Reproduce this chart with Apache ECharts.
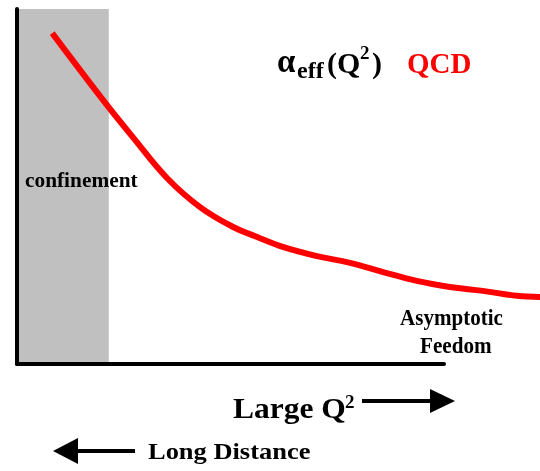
<!DOCTYPE html>
<html>
<head>
<meta charset="utf-8">
<style>
  html, body { margin: 0; padding: 0; background: #ffffff; }
  #chart { width: 540px; height: 471px; }
</style>
<script src="https://cdn.jsdelivr.net/npm/echarts@6/dist/echarts.min.js"></script>
</head>
<body>
<div id="chart"></div>
<script>
// Running coupling: Q^2 (arbitrary units) and effective coupling strength
const qSquared = [0.66, 1.61, 2.17, 2.81, 3.43, 4.05, 4.50, 4.98, 5.62, 6.24, 6.86, 7.49, 8.11, 8.73, 9.37, 9.80];
const alphaEff = [0.932, 0.744, 0.639, 0.524, 0.442, 0.386, 0.358, 0.330, 0.304, 0.285, 0.259, 0.234, 0.217, 0.206, 0.192, 0.189];
// Low-Q^2 confinement region (upper Q^2 bound)
const confinementEdge = 1.72;
// Drawn axes span Q^2 0..8; the curve runs on to 9.8
const axisRange = { xMax: 8, curveXMax: 9.8, yMax: 1 };

const SERIF = '"Liberation Serif", "Times New Roman", serif';

// Bold serif label placed by its baseline
function label(text, left, baseline, size, opts) {
  opts = opts || {};
  return {
    type: 'text',
    x: left,
    y: baseline - 0.3375 * size,
    scaleX: opts.scaleX || 1,
    z: 10,
    style: {
      text: text,
      x: 0,
      y: 0,
      font: 'bold ' + size + 'px ' + SERIF,
      fill: opts.color || '#000000',
      textAlign: 'left',
      verticalAlign: 'middle'
    }
  };
}

const hiddenAxis = {
  axisLine: { show: false },
  axisTick: { show: false },
  axisLabel: { show: false },
  splitLine: { show: false }
};
const blackAxis = {
  z: 5,
  axisLine: { show: true, lineStyle: { color: '#000000', width: 4 } },
  axisTick: { show: false },
  axisLabel: { show: false },
  splitLine: { show: false }
};

const chart = echarts.init(document.getElementById('chart'), null, { renderer: 'canvas' });

const option = {
  backgroundColor: '#ffffff',
  animation: false,
  grid: [
    // plotting area for the curve (extends to the right edge)
    { left: 17, top: 9, right: 0, bottom: 107, containLabel: false },
    // frame with the drawn axes
    { left: 17, top: 9, right: 96, bottom: 107, containLabel: false }
  ],
  xAxis: [
    Object.assign({ type: 'value', gridIndex: 0, min: 0, max: axisRange.curveXMax }, hiddenAxis),
    Object.assign({ type: 'value', gridIndex: 1, min: 0, max: axisRange.xMax }, blackAxis)
  ],
  yAxis: [
    Object.assign({ type: 'value', gridIndex: 0, min: 0, max: axisRange.yMax }, hiddenAxis),
    Object.assign({ type: 'value', gridIndex: 1, min: 0, max: axisRange.yMax }, blackAxis)
  ],
  series: [{
    type: 'line',
    xAxisIndex: 0,
    yAxisIndex: 0,
    data: qSquared.map((q, i) => [q, alphaEff[i]]),
    smooth: 0.4,
    showSymbol: false,
    lineStyle: { color: '#ff0000', width: 6, cap: 'butt' },
    markArea: {
      silent: true,
      itemStyle: { color: '#c0c0c0', opacity: 1 },
      data: [[{ coord: [0, 0] }, { coord: [confinementEdge, axisRange.yMax] }]]
    }
  }],
  graphic: [
    // title: alpha_eff(Q^2)  QCD
    label('α', 277, 75, 33),
    label('eff', 297, 80, 24),
    label('(Q', 327, 75, 30),
    label('2', 360, 61, 19),
    label(')', 372, 75, 30),
    label('QCD', 407, 75, 29, { color: '#ff0000' }),

    label('confinement', 25, 189, 22, { scaleX: 0.97 }),
    label('Asymptotic', 400, 327, 23, { scaleX: 0.915 }),
    label('Feedom', 420, 355, 23, { scaleX: 0.92 }),

    label('Large Q', 233, 420, 30, { scaleX: 1.05 }),
    label('2', 345, 410, 19),
    {
      type: 'line', z: 10,
      shape: { x1: 362, y1: 401, x2: 432, y2: 401 },
      style: { stroke: '#000000', lineWidth: 4 }
    },
    {
      type: 'polygon', z: 10,
      shape: { points: [[430, 389], [455, 401], [430, 413]] },
      style: { fill: '#000000' }
    },

    {
      type: 'polygon', z: 10,
      shape: { points: [[53, 451], [78, 438], [78, 464]] },
      style: { fill: '#000000' }
    },
    {
      type: 'line', z: 10,
      shape: { x1: 76, y1: 451, x2: 135, y2: 451 },
      style: { stroke: '#000000', lineWidth: 4 }
    },
    label('Long Distance', 148, 461, 23, { scaleX: 1.15 })
  ]
};

chart.setOption(option);
</script>
</body>
</html>
